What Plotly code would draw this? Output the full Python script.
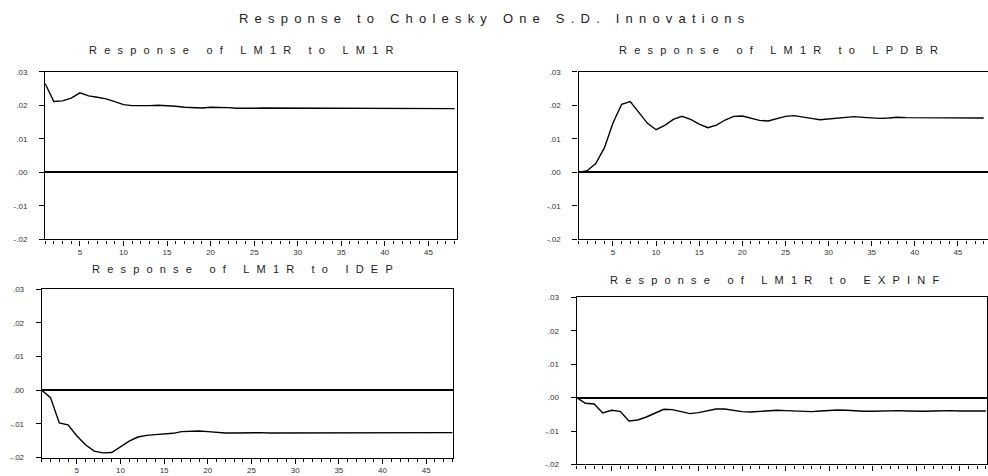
import plotly.graph_objects as go

periods = list(range(1, 49))

resp_lm1r = [0.0265, 0.0211, 0.0213, 0.0221, 0.0237, 0.0228, 0.0224, 0.0219, 0.0211, 0.0202,
             0.0199, 0.0198, 0.0199, 0.0200, 0.0199, 0.0197, 0.0194, 0.0192, 0.0192, 0.0194,
             0.0194, 0.0193, 0.0191, 0.0190, 0.0191, 0.0192, 0.0192, 0.0191, 0.0191, 0.0190,
             0.0190, 0.0191, 0.0191, 0.0191, 0.0190, 0.0190, 0.0191, 0.0191, 0.0190, 0.0190,
             0.0191, 0.0191, 0.0190, 0.0190, 0.0190, 0.0191, 0.0190, 0.0190]

resp_lpdbr = [0.0000, 0.0005, 0.0026, 0.0073, 0.0147, 0.0203, 0.0211, 0.0179, 0.0146, 0.0127,
              0.0140, 0.0158, 0.0167, 0.0158, 0.0144, 0.0133, 0.0141, 0.0156, 0.0167, 0.0168,
              0.0162, 0.0155, 0.0153, 0.0159, 0.0167, 0.0169, 0.0166, 0.0161, 0.0157, 0.0159,
              0.0162, 0.0165, 0.0166, 0.0164, 0.0162, 0.0161, 0.0162, 0.0164, 0.0163, 0.0163,
              0.0162, 0.0162, 0.0163, 0.0164, 0.0164, 0.0163, 0.0163, 0.0162]

resp_idep = [0.0000, -0.0022, -0.0097, -0.0103, -0.0135, -0.0162, -0.0181, -0.0186, -0.0185, -0.0167,
             -0.0151, -0.0139, -0.0134, -0.0132, -0.0131, -0.0128, -0.0123, -0.0121, -0.0121, -0.0123,
             -0.0126, -0.0127, -0.0127, -0.0126, -0.0125, -0.0126, -0.0127, -0.0127, -0.0126, -0.0125,
             -0.0125, -0.0126, -0.0126, -0.0126, -0.0125, -0.0125, -0.0126, -0.0126, -0.0125, -0.0125,
             -0.0126, -0.0126, -0.0125, -0.0125, -0.0126, -0.0126, -0.0126, -0.0126]

resp_expinf = [0.0000, -0.0017, -0.0019, -0.0046, -0.0038, -0.0041, -0.0070, -0.0067, -0.0058, -0.0047,
               -0.0035, -0.0036, -0.0043, -0.0048, -0.0045, -0.0039, -0.0034, -0.0034, -0.0038, -0.0042,
               -0.0043, -0.0041, -0.0039, -0.0038, -0.0039, -0.0040, -0.0043, -0.0042, -0.0040, -0.0038,
               -0.0037, -0.0038, -0.0040, -0.0041, -0.0041, -0.0040, -0.0039, -0.0039, -0.0040, -0.0041,
               -0.0041, -0.0040, -0.0039, -0.0039, -0.0040, -0.0040, -0.0041, -0.0040]

main_title = "Response to Cholesky One S.D. Innovations"
panel_titles = ["Response of LM1R to LM1R", "Response of LM1R to LPDBR",
                "Response of LM1R to IDEP", "Response of LM1R to EXPINF"]
y_tickvals = [-0.02, -0.01, 0.0, 0.01, 0.02, 0.03]
y_ticktext = ["-.02", "-.01", ".00", ".01", ".02", ".03"]
x_tickvals = [5, 10, 15, 20, 25, 30, 35, 40, 45]

series = [resp_lm1r, resp_lpdbr, resp_idep, resp_expinf]

W, H = 988, 476
# pixel boxes: (left, right, top, bottom)
boxes = [(45.1, 456.7, 69, 240), (578.5, 988, 69, 240),
         (41.8, 453.3, 290.7, 462.3), (576.7, 986.7, 299, 469.3)]
xranges = [[1, 48.25], [1, 48.5], [1, 48.1], [1, 48.1]]
title_pos = [(245, 47), (782, 47), (246, 270), (778, 281)]

fig = go.Figure()
font_fam = "Liberation Sans, Arial, sans-serif"
tick_font = dict(family=font_fam, size=8, color="#333333")

for i, vals in enumerate(series):
    n = i + 1
    fig.add_trace(go.Scatter(x=periods, y=vals, mode="lines",
                             line=dict(color="black", width=1.4),
                             xaxis="x" if n == 1 else f"x{n}",
                             yaxis="y" if n == 1 else f"y{n}",
                             showlegend=False, hoverinfo="skip"))
    l, r, t, b = boxes[i]
    xa = dict(domain=[l / W, min(r / W, 1.0)], range=xranges[i], anchor="y" if n == 1 else f"y{n}",
              showgrid=False, zeroline=False, showline=True, linecolor="black", linewidth=1.3,
              mirror=True, ticks="outside", ticklen=5, tickwidth=1.3, tickcolor="black",
              tickvals=x_tickvals, tickfont=tick_font, showticklabels=(n != 4),
              minor=dict(tickvals=periods, ticks="outside", ticklen=3, tickwidth=1.3,
                         tickcolor="black", showgrid=False))
    ya = dict(domain=[1 - b / H, 1 - t / H], range=[-0.02, 0.03], anchor="x" if n == 1 else f"x{n}",
              showgrid=False, zeroline=True, zerolinecolor="black", zerolinewidth=2,
              showline=True, linecolor="black", linewidth=1.3, mirror=(n != 2),
              ticks="outside", ticklen=5, tickwidth=1.3, tickcolor="black",
              tickvals=y_tickvals, ticktext=y_ticktext, tickfont=tick_font,
              ticklabelstandoff=10)
    fig.layout["xaxis" if n == 1 else f"xaxis{n}"] = xa
    fig.layout["yaxis" if n == 1 else f"yaxis{n}"] = ya

annotations = [dict(text=f'<span style="letter-spacing:6.2px">{main_title}</span>',
                    x=494 / W, y=1 - 15 / H, xref="paper", yref="paper",
                    xanchor="center", yanchor="middle", showarrow=False,
                    font=dict(family=font_fam, size=13, color="#222222"))]
for (cx, cy), txt in zip(title_pos, panel_titles):
    annotations.append(dict(text=f'<span style="letter-spacing:7.2px">{txt}</span>',
                            x=cx / W, y=1 - cy / H, xref="paper", yref="paper",
                            xanchor="center", yanchor="middle", showarrow=False,
                            font=dict(family=font_fam, size=11, color="#222222")))

fig.update_layout(width=W, height=H, margin=dict(l=0, r=0, t=0, b=0),
                  paper_bgcolor="white", plot_bgcolor="white", annotations=annotations)

fig.write_html("out.html", config={"displayModeBar": False},
               post_script="document.body.style.margin='0';document.body.style.overflow='hidden';")
